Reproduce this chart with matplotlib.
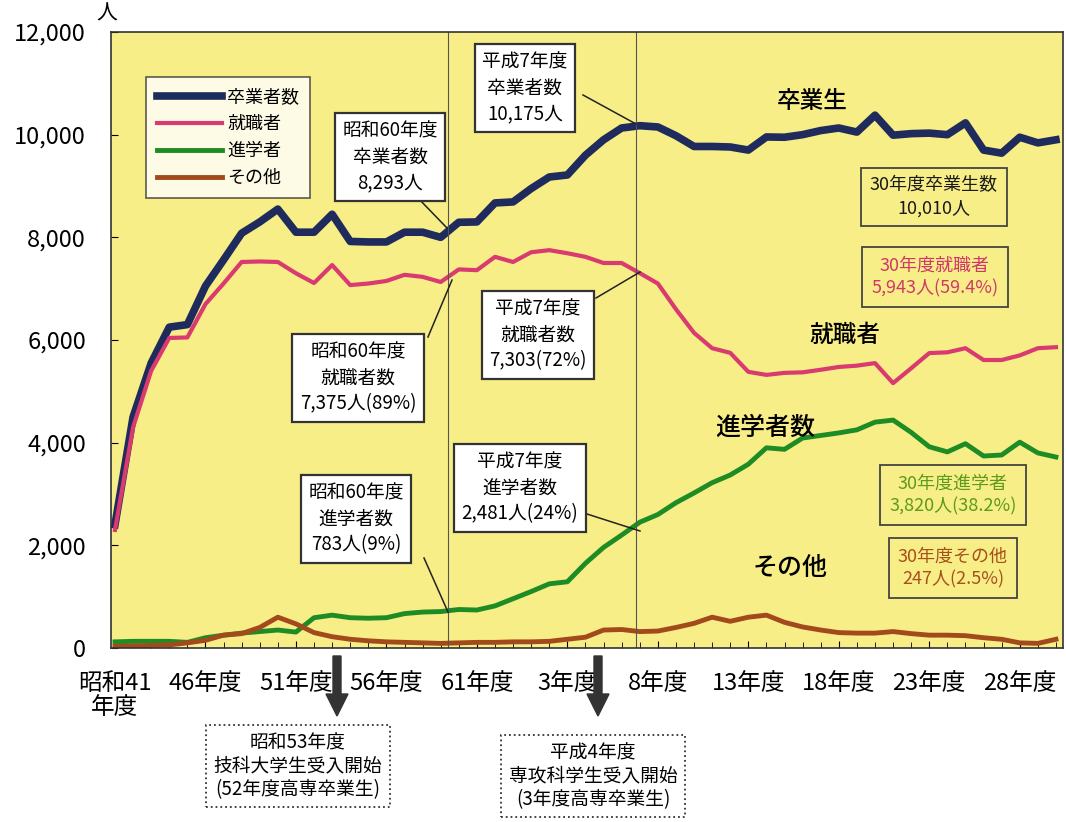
import matplotlib
matplotlib.use("Agg")
from matplotlib import pyplot as plt
from matplotlib.ticker import FuncFormatter

plt.rcParams["font.family"] = ["Noto Sans CJK JP", "DejaVu Sans"]

# 昭和41年度(1966) 〜 平成30年度(2018)
years = list(range(1966, 2019))

graduates = [2400, 4500, 5550, 6250, 6300, 7050, 7560, 8080, 8300, 8550,
             8100, 8100, 8450, 7920, 7910, 7910, 8100, 8100, 8000, 8293,
             8300, 8670, 8690, 8950, 9175, 9215, 9600, 9900, 10130, 10175,
             10150, 9980, 9770, 9770, 9760, 9700, 9955, 9950, 10000, 10080,
             10130, 10050, 10380, 9990, 10020, 10030, 10000, 10230, 9700, 9640,
             9950, 9840, 9900]
employed = [2300, 4300, 5400, 6040, 6050, 6700, 7100, 7520, 7530, 7520,
            7300, 7110, 7460, 7070, 7100, 7150, 7270, 7230, 7130, 7375,
            7360, 7620, 7520, 7710, 7750, 7690, 7620, 7500, 7500, 7303,
            7100, 6600, 6140, 5840, 5750, 5380, 5320, 5360, 5370, 5420,
            5475, 5500, 5550, 5160, 5450, 5745, 5760, 5840, 5610, 5610,
            5700, 5840, 5860]
advanced = [120, 130, 130, 130, 110, 200, 250, 290, 320, 350,
            310, 590, 640, 590, 580, 590, 670, 700, 710, 750,
            740, 820, 960, 1100, 1250, 1290, 1650, 1960, 2200, 2450,
            2600, 2830, 3020, 3220, 3370, 3580, 3900, 3870, 4090, 4140,
            4190, 4250, 4400, 4440, 4200, 3920, 3820, 3980, 3740, 3760,
            4010, 3800, 3720]
others = [30, 40, 50, 60, 100, 150, 250, 280, 400, 600,
          470, 300, 220, 170, 140, 120, 110, 100, 90, 100,
          110, 110, 120, 120, 130, 170, 210, 350, 360, 320,
          330, 400, 480, 600, 520, 600, 640, 500, 410, 350,
          300, 290, 290, 320, 280, 250, 250, 240, 200, 170,
          100, 90, 170]

tick_idx = [0, 5, 10, 15, 20, 25, 30, 35, 40, 45, 50]
tick_labels = ["昭和41\n年度", "46年度", "51年度", "56年度", "61年度", "3年度",
               "8年度", "13年度", "18年度", "23年度", "28年度"]

W, H = 1066, 822


def fp(x, y):
    # figure pixel -> figure fraction
    return x / W, 1 - y / H


fig = plt.figure(figsize=(W / 100, H / 100), dpi=100)
ax = fig.add_axes([111 / W, 1 - 648 / H, (1063 - 111) / W, (648 - 32) / H])
ax.set_facecolor("#F8EE88")

idx = list(range(len(years)))
ax.plot(idx, graduates, color="#1E2B5C", lw=5.5, label="卒業者数")
ax.plot(idx, employed, color="#D93A70", lw=3, label="就職者")
ax.plot(idx, advanced, color="#1E8C24", lw=3.5, label="進学者")
ax.plot(idx, others, color="#A34A1C", lw=3.5, label="その他")

ax.axvline(18.4, color="#555555", lw=0.8)
ax.axvline(28.8, color="#555555", lw=0.8)

ax.set_xlim(-0.22, 52.39)
ax.set_ylim(0, 12000)
ax.set_yticks(range(0, 12001, 2000))
ax.yaxis.set_major_formatter(FuncFormatter(lambda v, p: f"{int(v):,}"))
ax.set_xticks(tick_idx)
ax.set_xticklabels(tick_labels, linespacing=1.1)
ax.set_xticks(idx, minor=True)
ax.tick_params(axis="both", direction="in", labelsize=17, length=5)
ax.tick_params(axis="x", which="minor", direction="in", length=4)
ax.tick_params(axis="x", pad=17)
ax.tick_params(axis="y", pad=18)
for s in ax.spines.values():
    s.set_color("#333333")
    s.set_linewidth(1.2)

fig.text(*fp(96, 14), "人", fontsize=15, ha="left", va="center")

leg = ax.legend(loc="upper left", bbox_to_anchor=((137 - 111) / 952, 1 - (68 - 32) / 616),
                fontsize=13, frameon=True, fancybox=False, edgecolor="#333333",
                handlelength=3.6, borderpad=0.6, labelspacing=0.5, handletextpad=0.3)
leg.get_frame().set_linewidth(1.2)

white_box = dict(boxstyle="square,pad=0.4", fc="white", ec="#333333", lw=1.6)


def note(text, box_xy, point_xy, start_xy):
    fig.text(*fp(*box_xy), text, fontsize=13.5, ha="center", va="center",
             linespacing=1.3, bbox=white_box, zorder=5)
    fig.add_artist(plt.Line2D([fp(*start_xy)[0], fp(*point_xy)[0]],
                              [fp(*start_xy)[1], fp(*point_xy)[1]],
                              color="#222222", lw=1.1))


note("昭和60年度\n卒業者数\n8,293人", (390, 157), (447, 228), (417, 197))
note("平成7年度\n卒業者数\n10,175人", (525, 88), (636, 124), (583, 95))
note("昭和60年度\n就職者数\n7,375人(89%)", (358, 378), (452, 280), (428, 337))
note("平成7年度\n就職者数\n7,303(72%)", (538, 335), (640, 272), (596, 298))
note("昭和60年度\n進学者数\n783人(9%)", (356, 519), (448, 612), (424, 558))
note("平成7年度\n進学者数\n2,481人(24%)", (520, 488), (640, 531), (587, 514))

fig.text(*fp(812, 101), "卒業生", fontsize=17, ha="center", va="center", weight="medium")
fig.text(*fp(845, 335), "就職者", fontsize=17, ha="center", va="center", weight="medium")
fig.text(*fp(765, 428), "進学者数", fontsize=18, ha="center", va="center", weight="medium")
fig.text(*fp(790, 568), "その他", fontsize=18, ha="center", va="center", weight="medium")


def side_box(text, xy, color):
    fig.text(*fp(*xy), text, fontsize=13, ha="center", va="center", color=color,
             linespacing=1.35,
             bbox=dict(boxstyle="square,pad=0.5", fc="#F8EE88", ec="#444444", lw=1.3))


side_box("30年度卒業生数\n10,010人", (934, 197), "#1a1a1a")
side_box("30年度就職者\n5,943人(59.4%)", (935, 277), "#D0386A")
side_box("30年度進学者\n3,820人(38.2%)", (953, 495), "#5E9A1C")
side_box("30年度その他\n247人(2.5%)", (953, 568), "#A8501A")

# arrows below the axis
for ax_x in (337, 598):
    fig.add_artist(matplotlib.patches.FancyArrow(
        *fp(ax_x, 656), 0, -(60 / H), width=8 / W, head_width=22 / W, head_length=22 / H,
        length_includes_head=True, color="#333333", transform=fig.transFigure))

dotted_box = dict(boxstyle="square,pad=0.4", fc="white", ec="#333333", lw=1.3, ls=":")
fig.text(*fp(298, 766), "昭和53年度\n技科大学生受入開始\n(52年度高専卒業生)", fontsize=13.5,
         ha="center", va="center", linespacing=1.15, bbox=dotted_box)
fig.text(*fp(593, 776), "平成4年度\n専攻科学生受入開始\n(3年度高専卒業生)", fontsize=13.5,
         ha="center", va="center", linespacing=1.15, bbox=dotted_box)

fig.savefig("out.png", dpi=100)
